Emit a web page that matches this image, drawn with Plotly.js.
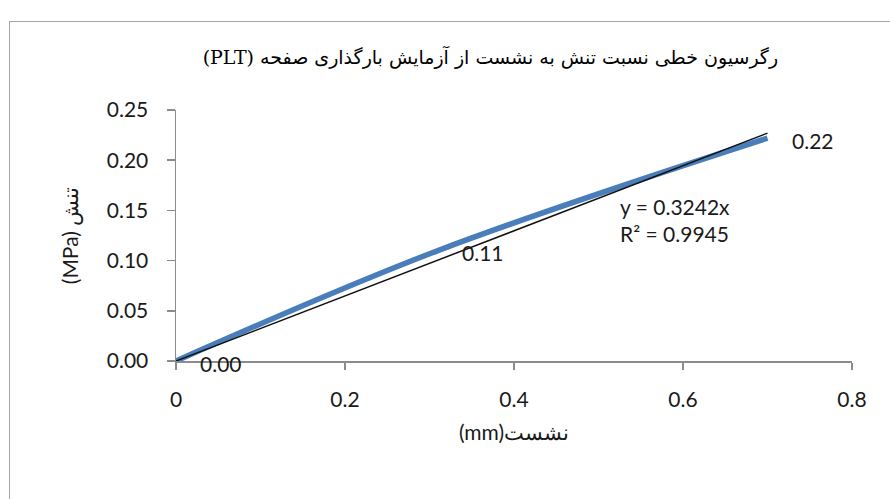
<!DOCTYPE html>
<html>
<head>
<meta charset="utf-8">
<script src="https://cdn.plot.ly/plotly-3.0.1.min.js"></script>
<style>
  html, body { margin: 0; padding: 0; background: #fff; }
  #wrap { position: relative; width: 890px; height: 499px; overflow: hidden; }
  #frame { position: absolute; left: 9px; top: 21px; width: 900px; height: 500px;
           border: 1.5px solid #a6a6a6; box-sizing: border-box; pointer-events: none; }
  #chart { position: absolute; left: 0; top: 0; width: 890px; height: 499px; }
</style>
</head>
<body>
<div id="wrap">
  <div id="chart"></div>
  <div id="frame"></div>
</div>
<script>
// Data (settlement mm vs stress MPa)
const settlement = [0, 0.31, 0.7];
const stress = [0, 0.11, 0.222];
const trendSlope = 0.3242;
const rSquared = 0.9945;
const xTicks = [0, 0.2, 0.4, 0.6, 0.8];
const yTicks = [0, 0.05, 0.10, 0.15, 0.20, 0.25];

const titleText = "(PLT) رگرسیون خطی نسبت تنش به نشست از آزمایش بارگذاری صفحه";
const xTitle = "(mm)نشست";
const yTitle = "(MPa) تنش";

const font = "Lato, 'Open Sans', sans-serif";

const xMax = Math.max(...settlement);
const trendX = [0, xMax];
const trendY = trendX.map(v => trendSlope * v);

const traces = [
  {
    x: settlement, y: stress, mode: 'lines', type: 'scatter',
    line: { color: '#4A7EBB', width: 5.5, shape: 'spline', smoothing: 1 },
    hoverinfo: 'skip'
  },
  {
    x: trendX, y: trendY, mode: 'lines', type: 'scatter',
    line: { color: '#111111', width: 1.5 },
    hoverinfo: 'skip'
  }
];

const annotations = settlement.map((v, i) => ({
  x: v, y: stress[i], xref: 'x', yref: 'y',
  text: stress[i].toFixed(2), showarrow: false,
  xanchor: 'left', yanchor: 'middle', xshift: 22, yshift: -2,
  font: { family: font, size: 21, color: '#1a1a1a' }
}));
annotations.push({
  x: 0.654, y: 0.56, xref: 'paper', yref: 'paper', xanchor: 'left', yanchor: 'middle',
  align: 'left', showarrow: false,
  text: 'y = ' + trendSlope + 'x<br>R² = ' + rSquared,
  font: { family: font, size: 21, color: '#1a1a1a' }
});

const layout = {
  width: 890, height: 499,
  margin: { l: 176, r: 38, t: 110, b: 138 },
  paper_bgcolor: 'rgba(0,0,0,0)', plot_bgcolor: 'rgba(0,0,0,0)',
  showlegend: false,
  title: {
    text: titleText, xref: 'container', yref: 'container',
    x: 0.551, y: 0.886, xanchor: 'center', yanchor: 'middle',
    font: { family: "'DejaVu Serif', 'DejaVu Sans', serif", size: 19, color: '#000' }
  },
  xaxis: {
    range: [0, 0.8], tickvals: xTicks, ticktext: xTicks.map(v => String(v)),
    showgrid: false, zeroline: false, showline: true, linecolor: '#8c8c8c', linewidth: 1.5,
    ticks: 'outside', ticklen: 7, tickcolor: '#8c8c8c', tickwidth: 1.5,
    ticklabelstandoff: 12,
    tickfont: { family: font, size: 21, color: '#1a1a1a' },
    title: { text: xTitle, standoff: 15, font: { family: font, size: 21, color: '#1a1a1a' } }
  },
  yaxis: {
    range: [0, 0.25], tickvals: yTicks, ticktext: yTicks.map(v => v.toFixed(2)),
    showgrid: false, zeroline: false, showline: true, linecolor: '#8c8c8c', linewidth: 1.5,
    ticks: 'outside', ticklen: 8, tickcolor: '#8c8c8c', tickwidth: 1.5,
    ticklabelstandoff: 14,
    tickfont: { family: font, size: 21, color: '#1a1a1a' },
    title: { text: yTitle, standoff: 22, font: { family: font, size: 21, color: '#1a1a1a' } }
  },
  annotations: annotations
};

Plotly.newPlot('chart', traces, layout, { staticPlot: true, displayModeBar: false });
</script>
</body>
</html>
